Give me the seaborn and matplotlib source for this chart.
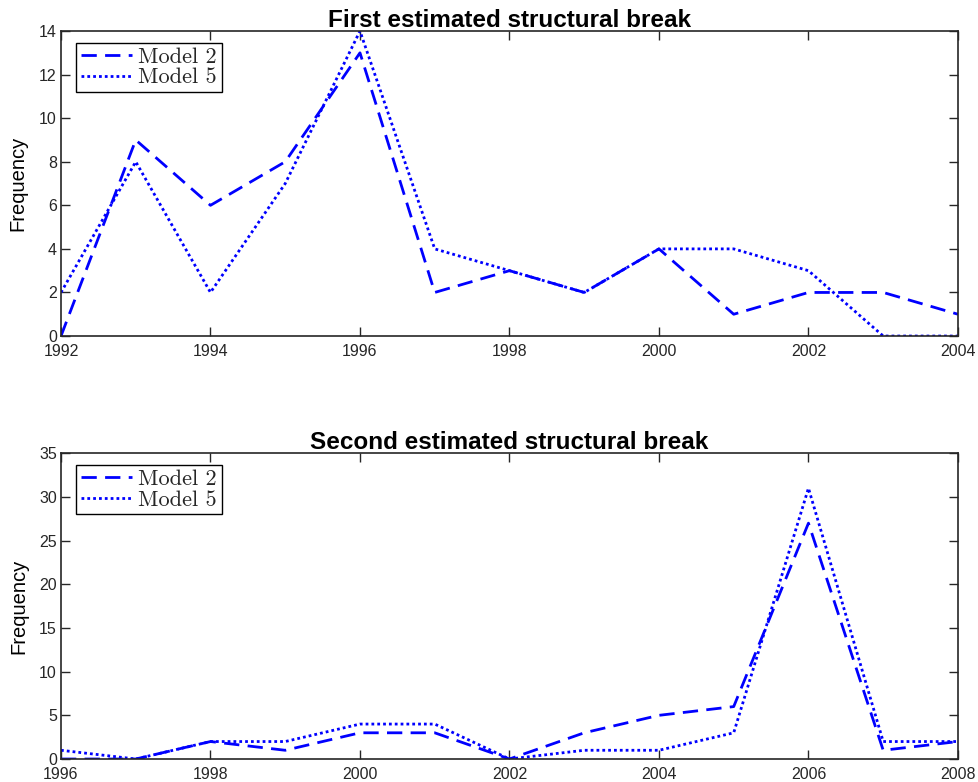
import pandas as pd
import matplotlib
matplotlib.use('Agg')
import matplotlib.pyplot as plt
import seaborn as sns

# data
years_first = [1992, 1993, 1994, 1995, 1996, 1997, 1998, 1999, 2000, 2001, 2002, 2003, 2004]
model2_first = [0, 9, 6, 8, 13, 2, 3, 2, 4, 1, 2, 2, 1]
model5_first = [2, 8, 2, 7, 14, 4, 3, 2, 4, 4, 3, 0, 0]

years_second = [1996, 1997, 1998, 1999, 2000, 2001, 2002, 2003, 2004, 2005, 2006, 2007, 2008]
model2_second = [0, 0, 2, 1, 3, 3, 0, 3, 5, 6, 27, 1, 2]
model5_second = [1, 0, 2, 2, 4, 4, 0, 1, 1, 3, 31, 2, 2]

models = ['Model 2', 'Model 5']
titles = ['First estimated structural break', 'Second estimated structural break']

sns.set_style('ticks')
plt.rcParams['font.family'] = ['Liberation Sans', 'DejaVu Sans']
plt.rcParams['axes.edgecolor'] = '#262626'


def long_df(years, m2, m5):
    return pd.DataFrame({
        'Year': years * 2,
        'Frequency': m2 + m5,
        'Model': [models[0]] * len(years) + [models[1]] * len(years),
    })


df_first = long_df(years_first, model2_first, model5_first)
df_second = long_df(years_second, model2_second, model5_second)

fig = plt.figure(figsize=(9.79, 7.82), dpi=100)
ax1 = fig.add_axes([0.0623, 0.5703, 0.9162, 0.390])
ax2 = fig.add_axes([0.0623, 0.0294, 0.9162, 0.391])

settings = [
    (ax1, df_first, years_first, 14, 2, titles[0]),
    (ax2, df_second, years_second, 35, 5, titles[1]),
]

for ax, df, yrs, ymax, ystep, title in settings:
    sns.lineplot(data=df, x='Year', y='Frequency', style='Model',
                 dashes={'Model 2': (5.5, 3), 'Model 5': (1, 1.1)},
                 color='blue', lw=2, ax=ax)
    ax.set_xlim(yrs[0], yrs[-1])
    ax.set_ylim(0, ymax)
    ax.set_xticks(list(range(yrs[0], yrs[-1] + 1, 2)))
    ax.set_yticks(list(range(0, ymax + 1, ystep)))
    ax.tick_params(direction='in', length=6.5, width=1, top=True, right=True,
                   labelsize=11.5, colors='#262626', labelcolor='#262626')
    ax.tick_params(axis='x', pad=6)
    ax.tick_params(axis='y', pad=3)
    for s in ax.spines.values():
        s.set_linewidth(1.2)
    ax.set_xlabel('')
    ax.set_ylabel('Frequency', fontsize=14.5, labelpad=8, color='black')
    ax.set_title(title, fontsize=17.5, fontweight='bold', pad=3, color='black')
    leg = ax.legend(loc='upper left', bbox_to_anchor=(0.017, 0.962),
                    prop={'family': 'cmr10', 'size': 16}, frameon=True,
                    fancybox=False, framealpha=1, edgecolor='black',
                    handlelength=2.3, handletextpad=0.3, borderpad=0.2,
                    labelspacing=0.05, borderaxespad=0)
    leg.get_frame().set_linewidth(1)

fig.savefig('out.png', dpi=100)
